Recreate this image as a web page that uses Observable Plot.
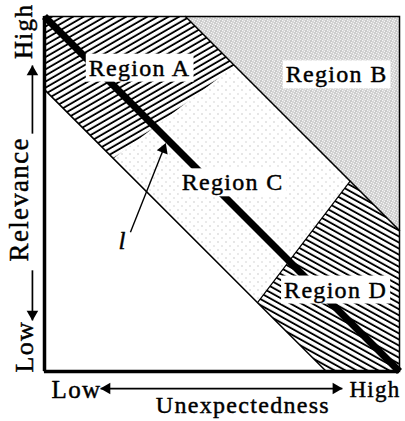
<!DOCTYPE html>
<html><head><meta charset="utf-8">
<script src="https://cdn.jsdelivr.net/npm/d3@7"></script>
<script src="https://cdn.jsdelivr.net/npm/@observablehq/plot@0.6"></script>
<style>body{margin:0;background:#fff} #chart svg{display:block}</style>
</head><body>
<svg width="0" height="0" style="position:absolute">
<defs>
  <pattern id="hatchA" patternUnits="userSpaceOnUse" width="12" height="5.3" patternTransform="rotate(-30)">
    <rect width="12" height="5.3" fill="#fff"/>
    <line x1="0" y1="2.6" x2="12" y2="2.6" stroke="#000" stroke-width="1.9"/>
  </pattern>
  <pattern id="hatchD" patternUnits="userSpaceOnUse" width="12" height="5.3" patternTransform="rotate(29)">
    <rect width="12" height="5.3" fill="#fff"/>
    <line x1="0" y1="2.6" x2="12" y2="2.6" stroke="#000" stroke-width="1.9"/>
  </pattern>
  <pattern id="stippleB" patternUnits="userSpaceOnUse" width="5" height="5">
    <rect width="5" height="5" fill="#f6f6f6"/>
    <rect x="0" y="0" width="1" height="1" fill="#444"/>
    <rect x="2" y="1" width="1" height="1" fill="#777"/>
    <rect x="4" y="2" width="1" height="1" fill="#555"/>
    <rect x="1" y="3" width="1" height="1" fill="#666"/>
    <rect x="3" y="4" width="1" height="1" fill="#888"/>
  </pattern>
  <pattern id="stippleC" patternUnits="userSpaceOnUse" width="8" height="8">
    <rect width="8" height="8" fill="#fff"/>
    <rect x="1" y="1" width="1" height="1" fill="#999"/>
    <rect x="5" y="5" width="1" height="1" fill="#aaa"/>
  </pattern>
</defs></svg>
<div id="chart"></div>
<script>
// geometry of the diagram (unit square, x = unexpectedness, y = relevance)
const lineL = [[0, 1], [1, 0]];
const bandLowerLine = [[0, 0.794], [0.794, 0]];
const bandUpperLine = [[0.397, 1], [1, 0.397]];
const cutCD = [[0.600, 0.194], [0.861, 0.536]];
const regionA = [[0, 1], [0.397, 1], [0.536, 0.861], [0.194, 0.600], [0, 0.794]];
const regionB = [[0.397, 1], [1, 1], [1, 0.397]];
const regionC = [[0.194, 0.600], [0.536, 0.861], [0.861, 0.536], [0.600, 0.194]];
const regionD = [[0.600, 0.194], [0.861, 0.536], [1, 0.397], [1, 0], [0.794, 0]];

// labels
const regionNames = ["Region A", "Region B", "Region C", "Region D"];
const regionLabelX = [0.268, 0.823, 0.530, 0.820];
const regionLabelY = [0.855, 0.836, 0.532, 0.230];
const lineLabel = {text: "l", x: 0.220, y: 0.369};
const lineArrow = {x1: 0.242, y1: 0.392, x2: 0.335, y2: 0.626, angle: 21};
const yAxisLabels = [
  {text: "High", x: -0.057, y: 0.958, size: 25},
  {text: "Relevance", x: -0.070, y: 0.485, size: 27},
  {text: "Low", x: -0.055, y: 0.070, size: 26}
];
const xAxisLabels = [
  {text: "Low", x: 0.090, y: -0.052, size: 25},
  {text: "High", x: 0.931, y: -0.052, size: 23},
  {text: "Unexpectedness", x: 0.559, y: -0.094, size: 24}
];
const xArrow = {x1: 0.158, x2: 0.839, y: -0.048};
const yArrowTop = {y1: 0.670, y2: 0.862, x: -0.034};
const yArrowBottom = {y1: 0.285, y2: 0.144, x: -0.034};
const headOffset = 0.018;

const serif = "Liberation Serif, Times New Roman, serif";
const X = d => d[0], Y = d => d[1];
const regionRows = regionNames.map((t, i) => ({text: t, x: regionLabelX[i], y: regionLabelY[i]}));

const heads = [
  {x: xArrow.x1 + headOffset, y: xArrow.y, r: -90},
  {x: xArrow.x2 - headOffset, y: xArrow.y, r: 90},
  {x: yArrowTop.x, y: yArrowTop.y2 - headOffset, r: 0},
  {x: yArrowBottom.x, y: yArrowBottom.y2 + headOffset, r: 180},
  {x: lineArrow.x2, y: lineArrow.y2, r: lineArrow.angle}
];

const plot = Plot.plot({
  width: 405, height: 421,
  marginLeft: 44, marginTop: 16, marginRight: 6, marginBottom: 50,
  x: {domain: [0, 1], axis: null},
  y: {domain: [0, 1], axis: null},
  marks: [
    Plot.line(regionB, {x: X, y: Y, fill: "url(#stippleB)", stroke: "none"}),
    Plot.line(regionC, {x: X, y: Y, fill: "url(#stippleC)", stroke: "none"}),
    Plot.line(regionA, {x: X, y: Y, fill: "url(#hatchA)", stroke: "none"}),
    Plot.line(regionD, {x: X, y: Y, fill: "url(#hatchD)", stroke: "none"}),
    Plot.line(bandLowerLine, {x: X, y: Y, stroke: "black", strokeWidth: 1.5}),
    Plot.line(bandUpperLine, {x: X, y: Y, stroke: "black", strokeWidth: 1.5}),
    Plot.line(cutCD, {x: X, y: Y, stroke: "black", strokeWidth: 1.2}),
    Plot.line(lineL, {x: X, y: Y, stroke: "black", strokeWidth: 7, strokeLinecap: "butt"}),
    Plot.frame({stroke: "black", strokeWidth: 1.5}),
    Plot.ruleX([0], {stroke: "black", strokeWidth: 3.5}),
    Plot.ruleY([0], {stroke: "black", strokeWidth: 3.5}),
    Plot.text(regionRows, {x: "x", y: "y", text: "text", fontSize: 24, fontFamily: serif,
      fill: "black", stroke: "black", strokeWidth: 0.45, className: "boxed"}),
    Plot.text([lineLabel], {x: "x", y: "y", text: "text", fontSize: 25, fontFamily: serif, fontStyle: "italic",
      fill: "black", stroke: "black", strokeWidth: 0.45}),
    Plot.link([lineArrow], {x1: "x1", y1: "y1", x2: "x2", y2: "y2", stroke: "black", strokeWidth: 1.4}),
    Plot.link([xArrow], {x1: "x1", x2: "x2", y1: "y", y2: "y", stroke: "black", strokeWidth: 1.7}),
    Plot.link([yArrowTop, yArrowBottom], {x1: "x", x2: "x", y1: "y1", y2: "y2", stroke: "black", strokeWidth: 1.7}),
    Plot.dot(heads, {x: "x", y: "y", rotate: "r", symbol: "triangle", r: 4.3, fill: "black", stroke: "none"}),
    Plot.text(yAxisLabels, {x: "x", y: "y", text: "text", fontSize: d => d.size, rotate: -90, fontFamily: serif,
      fill: "black", stroke: "black", strokeWidth: 0.45}),
    Plot.text(xAxisLabels, {x: "x", y: "y", text: "text", fontSize: d => d.size, fontFamily: serif,
      fill: "black", stroke: "black", strokeWidth: 0.45})
  ]
});
plot.querySelectorAll("text").forEach(t => t.setAttribute("letter-spacing", "1.3"));
document.getElementById("chart").appendChild(plot);
// white boxes behind the region labels (style only)
plot.querySelectorAll("g.boxed text").forEach(t => {
  const b = t.getBBox();
  const pad = 3;
  const r = document.createElementNS("http://www.w3.org/2000/svg", "rect");
  r.setAttribute("x", b.x - pad);
  r.setAttribute("y", b.y - 1);
  r.setAttribute("width", b.width + 2 * pad);
  r.setAttribute("height", b.height + 2);
  r.setAttribute("fill", "white");
  r.setAttribute("stroke", "none");
  const tr = t.getAttribute("transform");
  if (tr) r.setAttribute("transform", tr);
  t.parentNode.insertBefore(r, t);
});
</script>
</body></html>
